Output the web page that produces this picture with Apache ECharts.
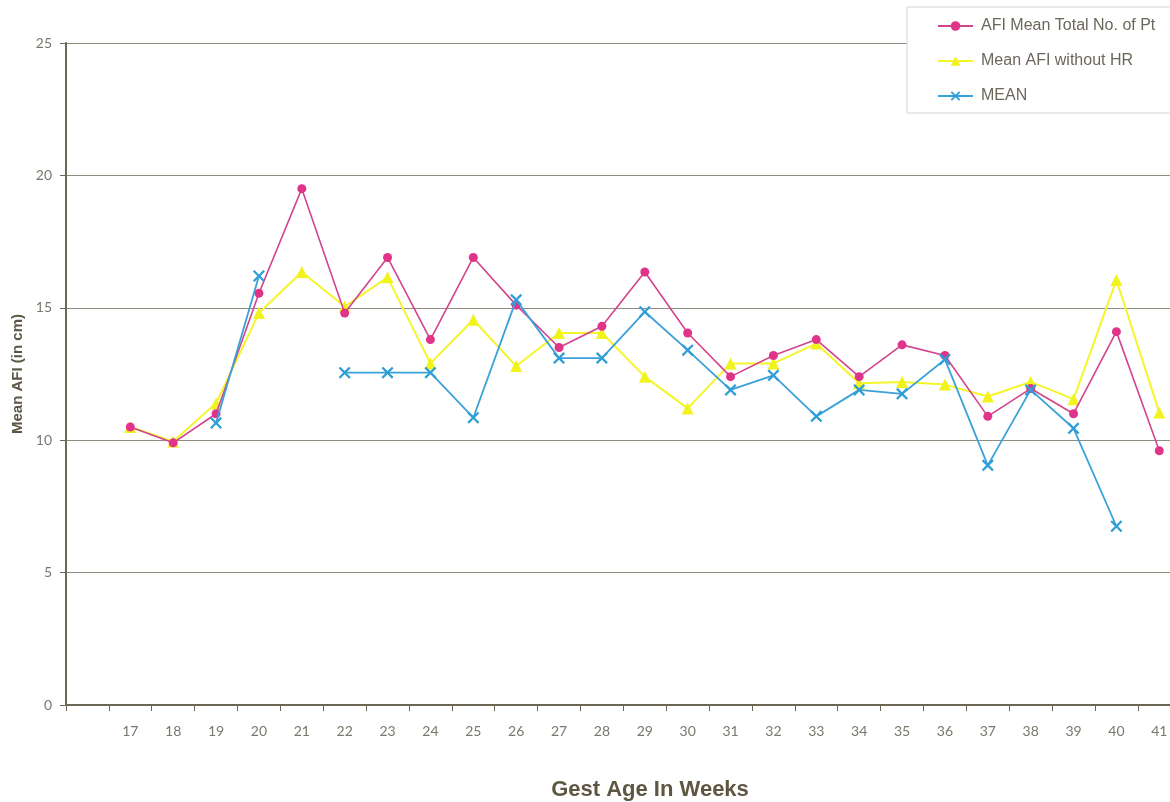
<!DOCTYPE html>
<html>
<head>
<meta charset="utf-8">
<title>Mean AFI by gestational age</title>
<script src="https://cdn.jsdelivr.net/npm/echarts@6/dist/echarts.min.js"></script>
<style>
  html, body { margin: 0; padding: 0; background: #ffffff; }
  #chart { width: 1170px; height: 802px; }
</style>
</head>
<body>
<div id="chart"></div>
<script>
// Gestational age (weeks)
const weeks = [17, 18, 19, 20, 21, 22, 23, 24, 25, 26, 27, 28, 29, 30, 31, 32, 33, 34, 35, 36, 37, 38, 39, 40, 41];

// AFI mean, all patients (cm)
const afiMeanTotal = [10.5, 9.9, 11.0, 15.55, 19.5, 14.8, 16.9, 13.8, 16.9, 15.1, 13.5, 14.3, 16.35, 14.05, 12.4, 13.2, 13.8, 12.4, 13.6, 13.2, 10.9, 11.95, 11.0, 14.1, 9.6];

// Mean AFI excluding high-risk cases (cm)
const afiWithoutHR = [10.5, 9.95, 11.4, 14.8, 16.35, 15.05, 16.15, 12.9, 14.55, 12.8, 14.05, 14.05, 12.4, 11.2, 12.9, 12.9, 13.65, 12.15, 12.2, 12.1, 11.65, 12.2, 11.55, 16.05, 11.05];

// Overall mean (cm); null where no value was recorded
const afiMean = [null, null, 10.65, 16.2, null, 12.55, 12.55, 12.55, 10.85, 15.3, 13.1, 13.1, 14.85, 13.4, 11.9, 12.45, 10.9, 11.9, 11.75, 13.05, 9.05, 11.9, 10.45, 6.75, null];

// Y-axis tick values
const yTicks = [0, 5, 10, 15, 20, 25];

const seriesNames = ['AFI Mean Total No. of Pt', 'Mean AFI without HR', 'MEAN'];

const pairs = vals => weeks.map((w, i) => [w, vals[i]]);

// band edges between weeks, for the small x-axis tick marks
const bandEdges = [weeks[0] - 1.5].concat(weeks.map(w => w - 0.5)).concat([weeks[weeks.length - 1] + 0.5]);

const crossPath = 'path://M0,1.6L1.6,0L6,4.4L10.4,0L12,1.6L7.6,6L12,10.4L10.4,12L6,7.6L1.6,12L0,10.4L4.4,6Z';

const axisColor = '#6b6756';
const labelColor = '#7a776c';
const font = 'Lato, "Noto Sans", sans-serif';

const chart = echarts.init(document.getElementById('chart'), null, { renderer: 'canvas' });

chart.setOption({
  backgroundColor: '#ffffff',
  animation: false,
  grid: { left: 66, right: 0, top: 43, bottom: 97, containLabel: false, outerBoundsMode: 'none' },
  legend: {
    orient: 'vertical',
    left: 907,
    top: 7,
    padding: [11, 60, 9, 30],
    itemGap: 19,
    itemWidth: 35,
    itemHeight: 12,
    backgroundColor: '#ffffff',
    borderColor: '#d4d4d4',
    borderWidth: 1,
    textStyle: { fontFamily: 'Arial, "Liberation Sans", sans-serif', fontSize: 16, color: '#6b675a', padding: [0, 0, 0, 3] },
    data: seriesNames
  },
  xAxis: [{
    type: 'value',
    min: weeks[0] - 1.5,
    max: 41.25,
    name: 'Gest Age In Weeks',
    nameLocation: 'middle',
    nameGap: 74,
    nameTextStyle: {
      fontFamily: 'Arial, "Liberation Sans", sans-serif',
      fontWeight: 'bold',
      fontSize: 22,
      color: '#5c5642',
      padding: [0, 0, 0, 64]
    },
    axisLine: { show: true, onZero: false, lineStyle: { color: axisColor, width: 2 } },
    axisTick: { show: true, length: 6, customValues: bandEdges, lineStyle: { color: axisColor, width: 1 } },
    axisLabel: {
      customValues: weeks,
      margin: 19,
      fontFamily: font,
      fontSize: 14,
      color: labelColor
    },
    splitLine: { show: false }
  }, {
    // top frame line of the plot area
    type: 'value',
    position: 'top',
    min: weeks[0] - 1.5,
    max: 41.25,
    axisLine: { show: true, lineStyle: { color: axisColor, width: 2 } },
    axisTick: { show: false },
    axisLabel: { show: false },
    splitLine: { show: false }
  }],
  yAxis: {
    type: 'value',
    min: yTicks[0],
    max: yTicks[yTicks.length - 1],
    interval: 5,
    name: 'Mean AFI (in cm)',
    nameLocation: 'middle',
    nameGap: 40,
    nameTextStyle: {
      fontFamily: 'Arial, "Liberation Sans", sans-serif',
      fontWeight: 'bold',
      fontSize: 15,
      color: '#5c5642'
    },
    axisLine: { show: true, lineStyle: { color: axisColor, width: 2 } },
    axisTick: { show: true, length: 6, lineStyle: { color: axisColor } },
    axisLabel: { margin: 14, fontFamily: font, fontSize: 14, color: labelColor },
    splitLine: { show: true, lineStyle: { color: '#8f8c80', width: 1 } }
  },
  series: [{
    name: seriesNames[0],
    type: 'line',
    data: pairs(afiMeanTotal),
    symbol: 'circle',
    symbolSize: 9,
    itemStyle: { color: '#e0338a' },
    lineStyle: { color: '#d2448c', width: 1.6 },
    z: 3
  }, {
    name: seriesNames[1],
    type: 'line',
    data: pairs(afiWithoutHR),
    symbol: 'triangle',
    symbolSize: 12,
    itemStyle: { color: '#f2f21c' },
    lineStyle: { color: '#f5f52a', width: 2 },
    z: 2
  }, {
    name: seriesNames[2],
    type: 'line',
    data: pairs(afiMean),
    connectNulls: false,
    symbol: crossPath,
    symbolSize: 12,
    itemStyle: { color: '#2e9ed6' },
    lineStyle: { color: '#3aa2d8', width: 1.8 },
    z: 4
  }]
});
</script>
</body>
</html>
